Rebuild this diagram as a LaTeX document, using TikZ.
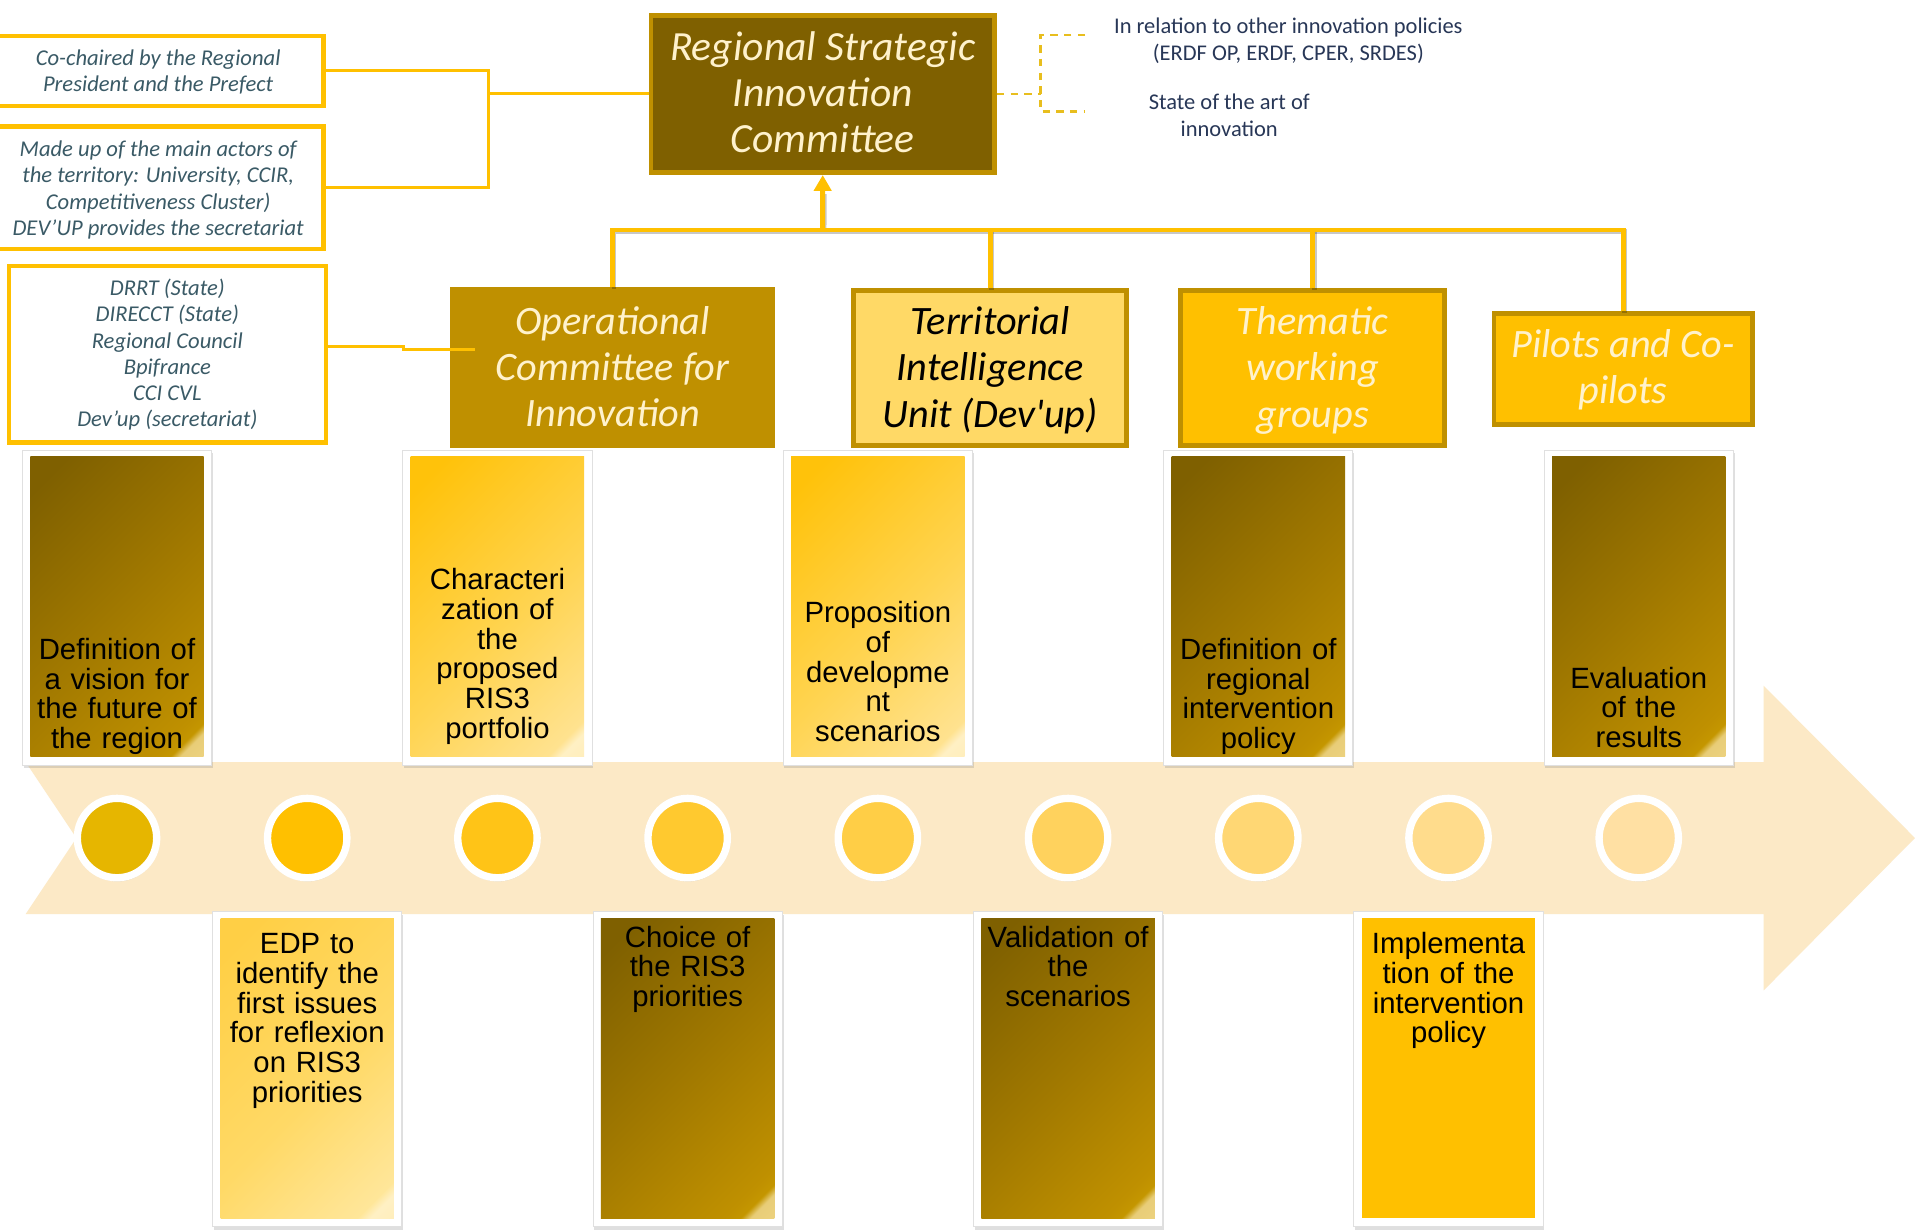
\documentclass[tikz,border=0pt]{standalone}
\usepackage{fontspec}
\setmainfont{Liberation Sans}
\newfontfamily\calib{Carlito}
\usetikzlibrary{shadows,arrows.meta}

\definecolor{cOlive}{HTML}{7F6000}
\definecolor{cOliveMid}{HTML}{A07800}
\definecolor{cGold}{HTML}{BF9000}
\definecolor{cGoldB}{HTML}{C49600}
\definecolor{cAmber}{HTML}{FFC000}
\definecolor{cLight}{HTML}{FFD966}
\definecolor{cPale}{HTML}{FFE699}
\definecolor{cCream}{HTML}{FFF2CC}
\definecolor{cBand}{HTML}{FCE9C6}
\definecolor{cLine}{HTML}{FFC000}
\definecolor{cTeal}{HTML}{3A5A66}
\definecolor{cNavy}{HTML}{283757}
\definecolor{cDash}{HTML}{E8BE1E}
\definecolor{cGlintD}{HTML}{E8CD78}
\definecolor{cGlintL}{HTML}{FFF0C4}
\definecolor{cFirstDot}{HTML}{E6B600}
\definecolor{cLastDot}{HTML}{FFE0A3}
\definecolor{cEdpA}{HTML}{FFCF45}
\definecolor{cPropA}{HTML}{FFC20A}
\definecolor{cPropB}{HTML}{FFD451}
\definecolor{cPropC}{HTML}{FFE28F}

% diagonal card fills: dark to light with a pale glint in the lower right corner
\pgfdeclarehorizontalshading{cardDark}{100bp}{color(0bp)=(cOlive); color(20bp)=(cOlive); color(50bp)=(cOliveMid); color(78bp)=(cGold); color(80.5bp)=(cGoldB); color(82bp)=(cGlintD); color(100bp)=(cPale)}
\pgfdeclarehorizontalshading{cardGold}{100bp}{color(0bp)=(cPropA); color(20bp)=(cPropA); color(55bp)=(cPropB); color(80bp)=(cPropC); color(82bp)=(cGlintL); color(100bp)=(cPale)}
\pgfdeclarehorizontalshading{cardSoft}{100bp}{color(0bp)=(cEdpA); color(20bp)=(cEdpA); color(55bp)=(cLight); color(80bp)=(cPale); color(82bp)=(cGlintL); color(100bp)=(cPale)}

% struts that fix the top of the first line and the bottom of the last line
\newcommand\topstrut[1]{\rule{0pt}{#1}}
\newcommand\botstrut{\vphantom{g}}

\begin{document}
\begin{tikzpicture}[x=0.5pt,y=-0.5pt,
  note/.style={draw=cLine, line width=1.8pt, fill=white, inner sep=0pt, align=center,
    text=cTeal, font=\calib\itshape\fontsize{9.25pt}{10.75pt}\selectfont},
  link/.style={draw=cLine, line width=1.2pt},
  unit/.style={draw=cGold, line width=2pt, inner sep=0pt, align=center,
    font=\calib\itshape\fontsize{16.5pt}{18.9pt}\selectfont},
  hier/.style={draw=cLine, line width=2pt},
  hiershadow/.style={draw=black, opacity=0.22, line width=2pt,
    transform canvas={xshift=0.6pt,yshift=-0.8pt}},
  frame/.style={draw=black!12, line width=0.4pt, fill=white, inner sep=0pt,
    minimum width=77.5pt, minimum height=128.95pt,
    drop shadow={opacity=0.25, shadow xshift=0.5pt, shadow yshift=-1.2pt}},
  card/.style={minimum width=71pt, minimum height=122.8pt, inner sep=0pt},
  cardtext/.style={text width=71pt, align=center, inner sep=0pt, anchor=base,
    font=\fontsize{12pt}{12.15pt}\selectfont},
  dot/.style={circle, draw=white, line width=3pt, minimum size=32.5pt, inner sep=0pt,
    drop shadow={opacity=0.3, shadow xshift=0.3pt, shadow yshift=-1.5pt}},
  aside/.style={text=cNavy, align=center, inner sep=0pt,
    font=\calib\fontsize{9.2pt}{11pt}\selectfont},
  dashlink/.style={draw=cDash, line width=1pt, dash pattern=on 3pt off 2.6pt},
]
\useasboundingbox (0,0) rectangle (1568,1007.1);
\clip (0,0) rectangle (1568,1007.1);
\fill[white] (0,0) rectangle (1568,1007.1);

% timeline band
\fill[cBand] (21,624) -- (1444,624) -- (1444,561.4) -- (1568,686.2) -- (1444,811)
  -- (1444,748.4) -- (21,748.4) -- (62.6,686.2) -- cycle;

% steps above the band
\node[frame] (f1) at (95.8,497.45) {};
\node[card, shade, shading=cardDark, shading angle=-45] (k1) at (95.8,496.8) {};
\node[cardtext] (t1) at (95.8,540) {Definition of\\a vision for\\the future of\\the region};

\node[frame] (f3) at (407.3,497.45) {};
\node[card, shade, shading=cardGold, shading angle=-45] (k3) at (407.3,496.8) {};
\node[cardtext] (t3) at (407.3,483) {Characteri\\zation of\\the\\proposed\\RIS3\\portfolio};

\node[frame] (f5) at (718.8,497.45) {};
\node[card, shade, shading=cardGold, shading angle=-45] (k5) at (718.8,496.8) {};
\node[cardtext] (t5) at (718.8,510) {Proposition\\of\\developme\\nt\\scenarios};

\node[frame] (f7) at (1030.3,497.45) {};
\node[card, shade, shading=cardDark, shading angle=-45] (k7) at (1030.3,496.8) {};
\node[cardtext] (t7) at (1030.3,540) {Definition of\\regional\\intervention\\policy};

\node[frame] (f9) at (1341.8,497.45) {};
\node[card, shade, shading=cardDark, shading angle=-45] (k9) at (1341.8,496.8) {};
\node[cardtext] (t9) at (1341.8,563.5) {Evaluation\\of the\\results};

% steps below the band
\node[frame] (f2) at (251.55,875.45) {};
\node[card, shade, shading=cardSoft, shading angle=-45] (k2) at (251.55,874.5) {};
\node[cardtext] (t2) at (251.55,781) {EDP to\\identify the\\first issues\\for reflexion\\on RIS3\\priorities};

\node[frame] (f4) at (563.05,875.45) {};
\node[card, shade, shading=cardDark, shading angle=-45] (k4) at (563.05,874.5) {};
\node[cardtext] (t4) at (563.05,775.5) {Choice of\\the RIS3\\priorities};

\node[frame] (f6) at (874.55,875.45) {};
\node[card, shade, shading=cardDark, shading angle=-45] (k6) at (874.55,874.5) {};
\node[cardtext] (t6) at (874.55,775.5) {Validation of\\the\\scenarios};

\node[frame] (f8) at (1186.05,875.45) {};
\node[card, fill=cAmber] (k8) at (1186.05,874.5) {};
\node[cardtext] (t8) at (1186.05,781) {Implementa\\tion of the\\intervention\\policy};

% milestones on the band
\node[dot, fill=cFirstDot] (d1) at (95.8,686.2) {};
\node[dot, fill=cAmber] (d2) at (251.55,686.2) {};
\node[dot, fill=cLastDot!14!cAmber] (d3) at (407.3,686.2) {};
\node[dot, fill=cLastDot!29!cAmber] (d4) at (563.05,686.2) {};
\node[dot, fill=cLastDot!43!cAmber] (d5) at (718.8,686.2) {};
\node[dot, fill=cLastDot!57!cAmber] (d6) at (874.55,686.2) {};
\node[dot, fill=cLastDot!71!cAmber] (d7) at (1030.3,686.2) {};
\node[dot, fill=cLastDot!86!cAmber] (d8) at (1186.05,686.2) {};
\node[dot, fill=cLastDot] (d9) at (1341.8,686.2) {};

% governance bodies
\node[unit, fill=cOlive, text=cCream, minimum width=140.65pt, minimum height=64.2pt,
  font=\calib\itshape\fontsize{17pt}{18.9pt}\selectfont] (rsic) at (673.65,77.1)
  {\topstrut{0.76em}Regional Strategic\\Innovation\\Committee\botstrut};
\node[unit, fill=cGold, text=cCream, minimum width=130.95pt, minimum height=64pt]
  (op) at (501.55,301) {\topstrut{0.82em}Operational\\Committee for\\Innovation\botstrut};
\node[unit, fill=cLight, text=black, minimum width=111.75pt, minimum height=63.75pt]
  (tiu) at (810.75,301.25) {\topstrut{0.82em}Territorial\\Intelligence\\Unit (Dev'up)\botstrut};
\node[unit, fill=cAmber, text=cCream, minimum width=108.05pt, minimum height=63.75pt]
  (twg) at (1074.75,301.25) {\topstrut{0.82em}Thematic\\working\\groups\botstrut};
\node[unit, fill=cAmber, text=cCream, minimum width=105.65pt, minimum height=45.5pt]
  (pil) at (1328.95,302) {\topstrut{0.76em}Pilots and Co-\\pilots\botstrut};

% membership notes
\node[note, minimum width=135.5pt, minimum height=28.7pt] (nA) at (129.5,58)
  {\topstrut{0.86em}Co-chaired by the Regional\\President and the Prefect\botstrut};
\node[note, minimum width=135.5pt, minimum height=50.25pt] (nB) at (129.5,153.8)
  {\topstrut{0.9em}Made up of the main actors of\\the territory: University, CCIR,\\Competitiveness Cluster)\\DEV’UP provides the secretariat\botstrut};
\node[note, minimum width=129.8pt, minimum height=72.4pt] (nC) at (137,290)
  {\topstrut{0.8em}DRRT (State)\\DIRECCT (State)\\Regional Council\\Bpifrance\\CCI CVL\\Dev’up (secretariat)\botstrut};

% note connectors
\coordinate (spine) at (400,76.4);
\draw[link] (nA.east) -- (nA.east -| spine) -- (nB.east -| spine) -- (nB.east);
\draw[link] (spine) -- (spine -| rsic.west);
\draw[link] ([yshift=3pt]nC.east) -- (330,284) -- (330,286.5)
  -- ([xshift=10pt,yshift=7.25pt]op.west);

% reporting lines
\coordinate (hub) at (673.5,188.3);
\begin{scope}
\draw[hiershadow] (op.north) -- (op.north |- hub) -- (pil.north |- hub) -- (pil.north);
\draw[hiershadow] (tiu.north) -- (tiu.north |- hub);
\draw[hiershadow] (twg.north) -- (twg.north |- hub);
\draw[hiershadow] (hub) -- ([yshift=-7pt]rsic.south);
\end{scope}
\draw[hier] (op.north) -- (op.north |- hub) -- (pil.north |- hub) -- (pil.north);
\draw[hier] (tiu.north) -- (tiu.north |- hub);
\draw[hier] (twg.north) -- (twg.north |- hub);
\draw[hier, -{Triangle[width=7pt,length=6.5pt]}] (hub) -- (rsic.south);

% related policies
\coordinate (bx) at (852,76.4);
\coordinate (bt) at (888.4,28.7);
\coordinate (bb) at (888.4,91.4);
\draw[dashlink] (rsic.east) -- (rsic.east -| bx);
\draw[dashlink] (bt) -- (bt -| bx) -- (bb -| bx) -- (bb);
\node[aside] (pol) at (1054.9,33.3)
  {\topstrut{0.7em}In relation to other innovation policies\\(ERDF OP, ERDF, CPER, SRDES)\botstrut};
\node[aside] (soa) at (1006.5,95.5) {\topstrut{0.7em}State of the art of\\innovation\botstrut};
\end{tikzpicture}
\end{document}
